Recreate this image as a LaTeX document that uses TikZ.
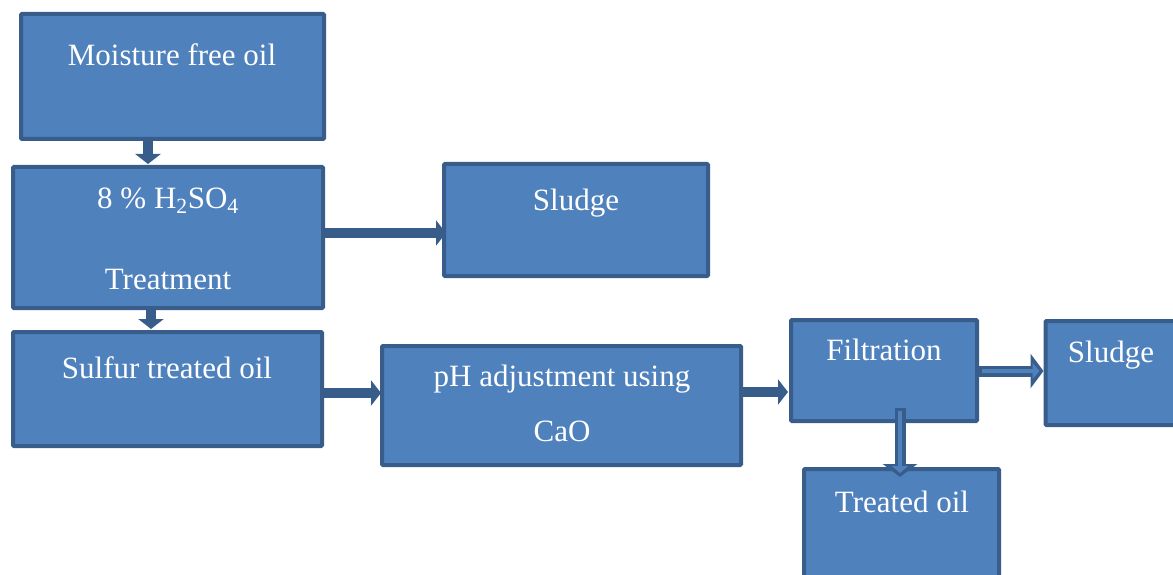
\documentclass[tikz,border=0pt]{standalone}
\usepackage{fontspec}
\setmainfont{Liberation Serif}
\usetikzlibrary{arrows.meta}
\definecolor{boxfill}{HTML}{4F81BD}
\definecolor{boxline}{HTML}{385D8A}
\begin{document}
\begin{tikzpicture}[x=1pt,y=-1pt,
  box/.style={draw=boxline,fill=boxfill,line width=4pt,rounded corners=1pt,inner sep=0pt,minimum width=#1},
  txt/.style={text=white,anchor=base,inner sep=0pt,font=\fontsize{31}{37}\selectfont},
  blk/.style={draw=boxline,line width=10pt,-{Triangle[width=25pt,length=10pt]}},
  outl/.style={draw=boxline,line width=11pt,-{Triangle[width=34pt,length=13pt]}},
  outin/.style={draw=boxfill,line width=4pt,shorten >=4pt,shorten <=3pt,-{Triangle[width=16pt,length=7pt]}}]
\useasboundingbox (0,0) rectangle (1173,575);
\node[box=303pt,minimum height=125pt] (b1) at (172.5,76.5) {};
\node[box=310pt,minimum height=141pt] (b2) at (168,237.5) {};
\node[box=264pt,minimum height=112pt] (b3) at (576,220) {};
\node[box=309pt,minimum height=114pt] (b4) at (167.5,389) {};
\node[box=359pt,minimum height=119pt] (b5) at (561.5,405.5) {};
\node[box=186pt,minimum height=101pt] (b6) at (884,370.5) {};
\node[box=141pt,minimum height=104pt] (b7) at (1116,373) {};
\node[box=195pt,minimum height=134pt] (b8) at (901.5,536) {};
\node[txt] (t1) at (172,66) {Moisture free oil};
\node[txt] (t2) at (168,208) {8 \% H\textsubscript{2}SO\textsubscript{4}};
\node[txt] (t3) at (168,289) {Treatment};
\node[txt] (t4) at (576,210) {Sludge};
\node[txt] (t5) at (167,378) {Sulfur treated oil};
\node[txt] (t6) at (562,386) {pH adjustment using};
\node[txt] (t7) at (562,441) {CaO};
\node[txt] (t8) at (884,360) {Filtration};
\node[txt] (t9) at (1111,362) {Sludge};
\node[txt] (t10) at (902,512) {Treated oil};
\coordinate (xa) at (148,0);
\coordinate (xb) at (151,0);
\coordinate (ya) at (0,233);
\coordinate (yb) at (0,393);
\coordinate (yc) at (0,392);
\coordinate (yd) at (0,371);
\coordinate (s7) at (900,408);
\coordinate (e7) at (900,477);
\draw[blk] (b1.south -| xa) -- ([yshift=1pt]b2.north -| xa);
\draw[blk] (b2.east |- ya) -- ([xshift=4pt]b3.west |- ya);
\draw[blk] (b2.south -| xb) -- ([yshift=1pt]b4.north -| xb);
\draw[blk] (b4.east |- yb) -- ([xshift=1pt]b5.west |- yb);
\draw[blk] (b5.east |- yc) -- ([xshift=-1pt]b6.west |- yc);
\draw[outl] (b6.east |- yd) -- (b7.west |- yd);
\draw[outin] (b6.east |- yd) -- (b7.west |- yd);
\draw[outl] (s7) -- (e7);
\draw[outin] (s7) -- (e7);
\end{tikzpicture}
\end{document}
